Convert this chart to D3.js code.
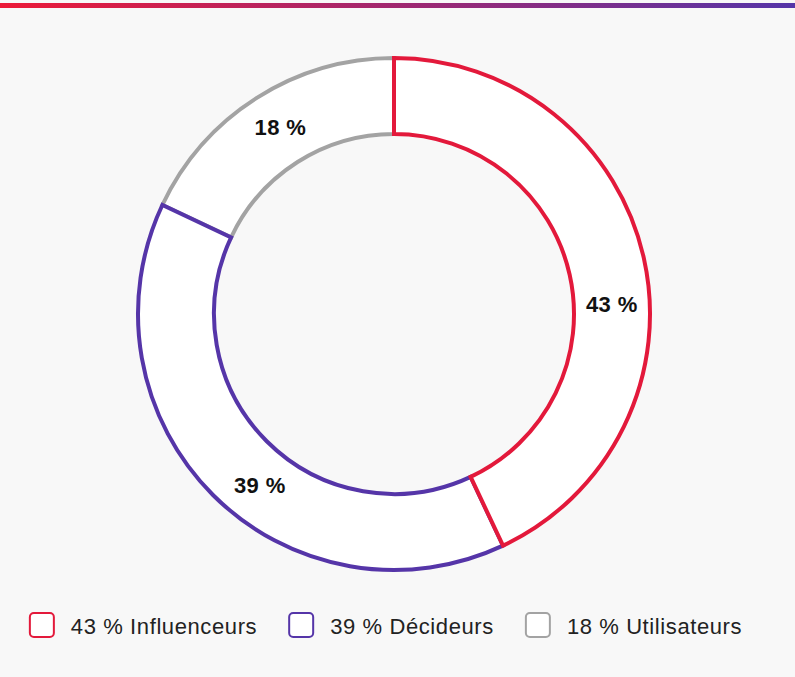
<!DOCTYPE html>
<html>
<head>
<meta charset="utf-8">
<script src="https://cdn.jsdelivr.net/npm/d3@7"></script>
<style>
  html, body { margin: 0; padding: 0; background: #f8f8f8; }
  svg { display: block; font-family: "Liberation Sans", Arial, sans-serif; }
</style>
</head>
<body>
<div id="chart"></div>
<script>

var categories = ["Influenceurs", "Décideurs", "Utilisateurs"];
var values = [43, 39, 18];
var colors = ["#e3193b", "#5535a8", "#a3a3a3"];

var width = 795;
var height = 677;
var cx = 394;
var cy = 314;
var outerR = 256;
var innerR = 180;

var svg = d3.select("#chart").append("svg")
    .attr("width", width)
    .attr("height", height);

// top gradient stripe
var grad = svg.append("defs").append("linearGradient")
    .attr("id", "topgrad")
    .attr("x1", "0%").attr("x2", "100%");
grad.append("stop").attr("offset", "0%").attr("stop-color", "#ec1a38");
grad.append("stop").attr("offset", "100%").attr("stop-color", "#5535a8");

svg.append("rect")
    .attr("x", 0).attr("y", 3)
    .attr("width", width).attr("height", 5)
    .attr("fill", "url(#topgrad)");

var pie = d3.pie().sort(null).value(function(d) { return d; });
var arc = d3.arc().innerRadius(innerR).outerRadius(outerR);

var g = svg.append("g")
    .attr("transform", "translate(" + cx + "," + cy + ")");

var arcs = pie(values);

// draw last slice first so the first slice's edges sit on top
g.selectAll(".slice")
    .data(arcs.slice().reverse())
  .enter().append("path")
    .attr("class", "slice")
    .attr("d", arc)
    .attr("fill", "#ffffff")
    .attr("stroke", function(d) { return colors[d.index]; })
    .attr("stroke-width", 4)
    .attr("stroke-linejoin", "miter");

// percentage labels, slightly nudged along the ring
var nudge = [10, -7, 1];
var labelR = 218;
g.selectAll(".lbl")
    .data(arcs)
  .enter().append("text")
    .attr("class", "lbl")
    .attr("x", function(d, i) {
      var a = (d.startAngle + d.endAngle) / 2 + nudge[i] * Math.PI / 180;
      return Math.sin(a) * labelR;
    })
    .attr("y", function(d, i) {
      var a = (d.startAngle + d.endAngle) / 2 + nudge[i] * Math.PI / 180;
      return -Math.cos(a) * labelR;
    })
    .attr("text-anchor", "middle")
    .attr("dominant-baseline", "central")
    .attr("font-size", "22px")
    .attr("font-weight", "bold")
    .attr("letter-spacing", "0.4px")
    .attr("fill", "#111")
    .text(function(d) { return d.data + " %"; });

// legend
var legend = svg.append("g");
var items = legend.selectAll(".item")
    .data(categories)
  .enter().append("g")
    .attr("class", "item");

items.append("rect")
    .attr("x", 0).attr("y", 0)
    .attr("width", 24).attr("height", 24)
    .attr("rx", 4)
    .attr("fill", "#fff")
    .attr("stroke", function(d, i) { return colors[i]; })
    .attr("stroke-width", 2);

items.append("text")
    .attr("x", 41)
    .attr("y", 21)
    .attr("font-size", "22px")
    .attr("letter-spacing", "0.6px")
    .attr("fill", "#222")
    .text(function(d, i) { return values[i] + " % " + d; });

var gap = 32;
var xs = [];
var total = 0;
items.each(function(d, i) {
  var w = 41 + d3.select(this).select("text").node().getComputedTextLength();
  xs.push(total);
  total += w + gap;
});
total -= gap;
var startX = 386 - total / 2;
items.attr("transform", function(d, i) {
  return "translate(" + (startX + xs[i]) + ",613)";
});

</script>
</body>
</html>
